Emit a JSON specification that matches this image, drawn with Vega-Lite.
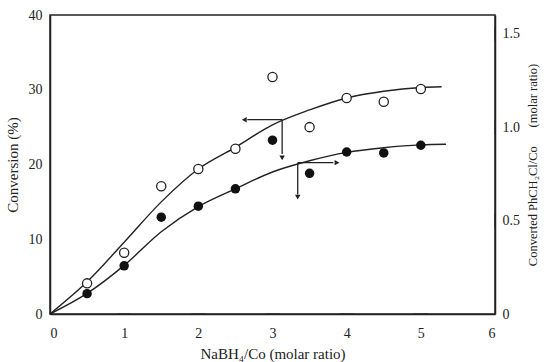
{
  "$schema": "https://vega.github.io/schema/vega-lite/v6.json",
  "width": 445,
  "height": 299,
  "autosize": "none",
  "padding": {"left": 50, "top": 15, "right": 57, "bottom": 48},
  "background": "#ffffff",
  "config": {
    "font": "Liberation Serif",
    "view": {"stroke": "#222", "strokeWidth": 1.5},
    "axis": {"labelFont": "Liberation Serif", "titleFont": "Liberation Serif", "labelFontSize": 14, "titleFontSize": 15, "titleFontWeight": "normal", "labelColor": "#222", "titleColor": "#222", "domainColor": "#222", "domainWidth": 1.5, "grid": false}
  },
  "datasets": {
    "open": [
      {"r": 0.5, "c": 4.1}, {"r": 1.0, "c": 8.2}, {"r": 1.5, "c": 17.1}, {"r": 2.0, "c": 19.4},
      {"r": 2.5, "c": 22.1}, {"r": 3.0, "c": 31.7}, {"r": 3.5, "c": 25.0}, {"r": 4.0, "c": 28.9},
      {"r": 4.5, "c": 28.4}, {"r": 5.0, "c": 30.1}
    ],
    "filled": [
      {"r": 0.5, "m": 0.109}, {"r": 1.0, "m": 0.258}, {"r": 1.5, "m": 0.518}, {"r": 2.0, "m": 0.577},
      {"r": 2.5, "m": 0.67}, {"r": 3.0, "m": 0.93}, {"r": 3.5, "m": 0.753}, {"r": 4.0, "m": 0.867},
      {"r": 4.5, "m": 0.862}, {"r": 5.0, "m": 0.903}
    ],
    "curveUp": [
      {"r": 0, "c": 0}, {"r": 0.5, "c": 4.3}, {"r": 1.0, "c": 9.6}, {"r": 1.5, "c": 15.0},
      {"r": 2.0, "c": 19.4}, {"r": 2.5, "c": 22.3}, {"r": 3.0, "c": 25.3}, {"r": 3.5, "c": 27.3},
      {"r": 4.0, "c": 28.9}, {"r": 4.5, "c": 29.8}, {"r": 5.0, "c": 30.3}, {"r": 5.28, "c": 30.4}
    ],
    "curveLow": [
      {"r": 0, "m": 0}, {"r": 0.5, "m": 0.11}, {"r": 1.0, "m": 0.26}, {"r": 1.5, "m": 0.44},
      {"r": 2.0, "m": 0.575}, {"r": 2.5, "m": 0.67}, {"r": 3.0, "m": 0.76}, {"r": 3.5, "m": 0.82},
      {"r": 4.0, "m": 0.865}, {"r": 4.5, "m": 0.89}, {"r": 5.0, "m": 0.905}, {"r": 5.34, "m": 0.908}
    ],
    "arrowsUp": [
      {"r": 3.13, "c": 26.0, "r2": 2.66, "c2": 26.0},
      {"r": 3.13, "c": 26.0, "r2": 3.13, "c2": 21.4}
    ],
    "headsUp": [
      {"r": 2.62, "c": 26.0, "s": "triangle-left"},
      {"r": 3.13, "c": 20.9, "s": "triangle-down"}
    ],
    "arrowsLow": [
      {"r": 3.34, "m": 0.81, "r2": 3.82, "m2": 0.81},
      {"r": 3.34, "m": 0.81, "r2": 3.34, "m2": 0.64}
    ],
    "headsLow": [
      {"r": 3.87, "m": 0.81, "s": "triangle-right"},
      {"r": 3.34, "m": 0.625, "s": "triangle-down"}
    ],
    "xTicks": [{"r": 1}, {"r": 2}, {"r": 3}, {"r": 4}, {"r": 5}],
    "leftTicks": [{"c": 10}, {"c": 20}, {"c": 30}],
    "rightTicks": [{"m": 0.5}, {"m": 1.0}, {"m": 1.5}]
  },
  "layer": [
    {
      "layer": [
        {
          "data": {"name": "curveUp"},
          "mark": {"type": "line", "interpolate": "monotone", "color": "#222", "strokeWidth": 1.4},
          "encoding": {
            "x": {"field": "r", "type": "quantitative", "scale": {"domain": [0, 6], "nice": false},
              "axis": {"title": "NaBH₄/Co (molar ratio)", "values": [0, 1, 2, 3, 4, 5, 6], "format": "d", "ticks": false, "labelPadding": 12, "titlePadding": 6}},
            "y": {"field": "c", "type": "quantitative", "scale": {"domain": [0, 40], "nice": false},
              "axis": {"title": "Conversion (%)", "values": [0, 10, 20, 30, 40], "ticks": false, "labelPadding": 8, "titlePadding": 8}}
          }
        },
        {
          "data": {"name": "xTicks"},
          "mark": {"type": "tick", "orient": "horizontal", "color": "#222", "size": 14, "thickness": 1.5, "clip": true},
          "encoding": {
            "x": {"field": "r", "type": "quantitative"},
            "y": {"datum": 0, "type": "quantitative"}
          }
        },
        {
          "data": {"name": "leftTicks"},
          "mark": {"type": "tick", "orient": "vertical", "color": "#222", "size": 14, "thickness": 1.5, "clip": true},
          "encoding": {
            "x": {"datum": 0, "type": "quantitative"},
            "y": {"field": "c", "type": "quantitative"}
          }
        },
        {
          "data": {"name": "arrowsUp"},
          "mark": {"type": "rule", "color": "#222", "strokeWidth": 1.3},
          "encoding": {
            "x": {"field": "r", "type": "quantitative"},
            "y": {"field": "c", "type": "quantitative"},
            "x2": {"field": "r2"},
            "y2": {"field": "c2"}
          }
        },
        {
          "data": {"name": "headsUp"},
          "mark": {"type": "point", "filled": true, "color": "#222", "opacity": 1, "size": 30},
          "encoding": {
            "x": {"field": "r", "type": "quantitative"},
            "y": {"field": "c", "type": "quantitative"},
            "shape": {"field": "s", "type": "nominal", "scale": null}
          }
        },
        {
          "data": {"name": "open"},
          "mark": {"type": "point", "shape": "circle", "filled": true, "fill": "#ffffff", "stroke": "#222", "strokeWidth": 1.3, "opacity": 1, "size": 85},
          "encoding": {
            "x": {"field": "r", "type": "quantitative"},
            "y": {"field": "c", "type": "quantitative"}
          }
        }
      ]
    },
    {
      "layer": [
        {
          "data": {"name": "curveLow"},
          "mark": {"type": "line", "interpolate": "monotone", "color": "#222", "strokeWidth": 1.4},
          "encoding": {
            "x": {"field": "r", "type": "quantitative"},
            "y": {"field": "m", "type": "quantitative", "scale": {"domain": [0, 1.6], "nice": false},
              "axis": {"orient": "right", "title": "Converted PhCH₂Cl/Co\u00a0\u00a0\u00a0\u00a0\u00a0\u00a0(molar ratio)", "titleFontSize": 12.5, "values": [0, 0.5, 1.0, 1.5],
                "labelExpr": "datum.value == 0 ? '0' : format(datum.value, '.1f')", "ticks": false, "labelPadding": 7, "titlePadding": 20, "titleAngle": 270}}
          }
        },
        {
          "data": {"name": "rightTicks"},
          "mark": {"type": "tick", "orient": "vertical", "color": "#222", "size": 14, "thickness": 1.5, "clip": true},
          "encoding": {
            "x": {"datum": 6, "type": "quantitative"},
            "y": {"field": "m", "type": "quantitative"}
          }
        },
        {
          "data": {"name": "arrowsLow"},
          "mark": {"type": "rule", "color": "#222", "strokeWidth": 1.3},
          "encoding": {
            "x": {"field": "r", "type": "quantitative"},
            "y": {"field": "m", "type": "quantitative"},
            "x2": {"field": "r2"},
            "y2": {"field": "m2"}
          }
        },
        {
          "data": {"name": "headsLow"},
          "mark": {"type": "point", "filled": true, "color": "#222", "opacity": 1, "size": 30},
          "encoding": {
            "x": {"field": "r", "type": "quantitative"},
            "y": {"field": "m", "type": "quantitative"},
            "shape": {"field": "s", "type": "nominal", "scale": null}
          }
        },
        {
          "data": {"name": "filled"},
          "mark": {"type": "point", "shape": "circle", "filled": true, "color": "#111", "opacity": 1, "size": 90},
          "encoding": {
            "x": {"field": "r", "type": "quantitative"},
            "y": {"field": "m", "type": "quantitative"}
          }
        }
      ]
    }
  ],
  "resolve": {"scale": {"y": "independent"}}
}
